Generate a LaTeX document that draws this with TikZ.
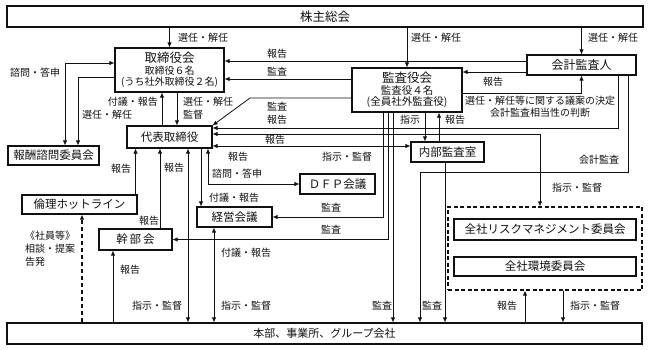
\documentclass[tikz,border=0pt]{standalone}
\usepackage{fontspec}
\setmainfont{Noto Sans CJK JP}
\usetikzlibrary{arrows.meta, calc}
\definecolor{inkblack}{HTML}{111111}

\begin{document}
\begin{tikzpicture}[x=1pt, y=-1pt, inkblack,
    box/.style={draw, line width=1.1pt, inner sep=0pt, align=center, font=\fontsize{11.5}{13}\selectfont},
    grpbox/.style={draw, line width=1.2pt, dash pattern=on 4pt off 2.5pt, inner sep=0pt},
    lbl/.style={inner sep=0pt, font=\fontsize{10}{12}\selectfont},
    arr/.style={line width=0.8pt, -{Latex[length=5pt,width=4.5pt]}},
    arrs/.style={line width=0.8pt, {Latex[length=5pt,width=4.5pt]}-{Latex[length=5pt,width=4.5pt]}}]
  \useasboundingbox (0,0) rectangle (648,350);

  \node[box, minimum width=636pt, minimum height=21pt, font=\fontsize{12.5}{14}\selectfont] (kabu) at (325,16.5) {株主総会};
  \node[box, minimum width=109pt, minimum height=44pt, font=\fontsize{10}{11.5}\selectfont] (tori) at (169.5,70)
    {{\fontsize{12.5}{14}\selectfont 取締役会}\\取締役６名\\(うち社外取締役２名)};
  \node[box, minimum width=109pt, minimum height=20pt, font=\fontsize{12}{14}\selectfont] (kaikei) at (581.5,65) {会計監査人};
  \node[box, minimum width=110pt, minimum height=44pt, font=\fontsize{10.5}{11.5}\selectfont] (kansa) at (407,90)
    {{\fontsize{12.5}{14}\selectfont 監査役会}\\監査役４名\\(全員社外監査役)};
  \node[box, minimum width=85pt, minimum height=22pt] (daihyo) at (169.5,137) {代表取締役};
  \node[box, minimum width=91pt, minimum height=19pt] (hoshu) at (53.5,155.5) {報酬諮問委員会};
  \node[box, minimum width=73pt, minimum height=20pt] (naibu) at (447.5,152) {内部監査室};
  \node[box, minimum width=75pt, minimum height=20pt] (dfp) at (337.5,184) {ＤＦＰ会議};
  \node[box, minimum width=115pt, minimum height=19pt] (rinri) at (79.5,204.5) {倫理ホットライン};
  \node[box, minimum width=75pt, minimum height=20pt] (keiei) at (234.5,217) {経営会議};
  \node[box, minimum width=73pt, minimum height=21pt] (kanbu) at (135.5,239.5) {幹\hspace{2pt}部\hspace{2pt}会};
  \node[grpbox, minimum width=194pt, minimum height=83pt] (grp) at (545,248.5) {};
  \node[box, minimum width=182pt, minimum height=21pt] (risk) at (545,229.5) {全社リスクマネジメント委員会};
  \node[box, minimum width=182pt, minimum height=19pt] (kankyo) at (545,266.5) {全社環境委員会};
  \node[box, minimum width=635pt, minimum height=21pt, font=\fontsize{11}{13}\selectfont] (honbu) at (324.5,333.5) {本部、事業所、グループ会社};

  \coordinate (dgbend) at (250,98);
  \coordinate (acbend) at (420,172);

  \draw[arr] (tori.north |- kabu.south) -- (tori.north);
  \draw[arr] (kansa.north |- kabu.south) -- (kansa.north);
  \draw[arr] (kaikei.north |- kabu.south) -- (kaikei.north);
  \draw[arr] ([yshift=4pt]kaikei.west) -- ([yshift=4pt]kaikei.west -| tori.east);
  \draw[arr] ([yshift=11pt]kansa.west) -- ([yshift=11pt]kansa.west -| tori.east);
  \draw[arr] ([yshift=-8pt]kansa.west) -- (dgbend) -- (daihyo.north east);
  \draw[arr] ([yshift=-7pt]kaikei.west) -- ([yshift=-7pt]kaikei.west -| kansa.east);
  \draw[arr] ([yshift=-3pt]kansa.east) -| (kaikei.south);
  \draw[arr] ([xshift=36.5pt]kaikei.south) |- ([yshift=9pt]daihyo.east);
  \draw[arrs] ([yshift=3pt]daihyo.east) -| ([xshift=-5pt]grp.north);
  \draw[arrs] ([yshift=-9pt]daihyo.east) -- ([yshift=-9pt]daihyo.east -| naibu.west);
  \draw[arr] ([xshift=18pt]kansa.south) -- ([xshift=18pt]kansa.south |- naibu.north);
  \draw[arr] ([xshift=32pt]kansa.south |- naibu.north) -- ([xshift=32pt]kansa.south);
  \draw[arr] ([xshift=-24pt]kansa.south) |- (keiei.east);
  \draw[arr] ([xshift=-19pt]kansa.south) |- (kanbu.east);
  \draw[arr] ([xshift=-14pt]kansa.south) -- ([xshift=-14pt]kansa.south |- honbu.north);
  \draw[arr] ([xshift=46.5pt]kaikei.south) |- (acbend) -- (acbend |- honbu.north);
  \draw[arr] ([xshift=-2.5pt]naibu.south) -- ([xshift=-2.5pt]naibu.south |- honbu.north);
  \draw[arrs] ([yshift=7pt]tori.west) -| ([xshift=11.5pt]hoshu.north);
  \draw[arr] ([yshift=-7pt]tori.west) -| ([xshift=24.5pt]hoshu.north);
  \draw[arr] ([xshift=-7.5pt]daihyo.north) -- ([xshift=-7.5pt]daihyo.north |- tori.south);
  \draw[arr] ([xshift=7.5pt]tori.south) -- ([xshift=7.5pt]tori.south |- daihyo.north);
  \draw[arr] ([xshift=-2pt]rinri.north east) -- ([xshift=-2pt]rinri.north east |- daihyo.south);
  \draw[arr] ([xshift=24.5pt]kanbu.north) -- ([xshift=24.5pt]kanbu.north |- daihyo.south);
  \draw[arrs] ([xshift=18.5pt]daihyo.south) -- ([xshift=18.5pt]daihyo.south |- honbu.north);
  \draw[arr] ([xshift=31.5pt]daihyo.south) -- ([xshift=31.5pt]daihyo.south |- keiei.north);
  \draw[arrs] ([xshift=38.5pt]daihyo.south) |- (dfp.west);
  \draw[arrs] ([xshift=-20.5pt]keiei.south) -- ([xshift=-20.5pt]keiei.south |- honbu.north);
  \draw[arr] ([xshift=-22.5pt]kanbu.south |- honbu.north) -- ([xshift=-22.5pt]kanbu.south);
  \draw[arr, line width=1.2pt, dash pattern=on 4pt off 3pt] ([xshift=2.5pt]rinri.south |- honbu.north) -- ([xshift=2.5pt]rinri.south);
  \draw[arr] ([xshift=-20pt]grp.south |- honbu.north) -- ([xshift=-20pt]grp.south);
  \draw[arr] ([xshift=18pt]grp.south) -- ([xshift=18pt]grp.south |- honbu.north);

  \node[lbl, anchor=west] (lb1) at (178,38) {選任・解任};
  \node[lbl, anchor=west] (lb2) at (411,38) {選任・解任};
  \node[lbl, anchor=west] (lb3) at (588,38) {選任・解任};
  \node[lbl] (lb4) at (277,54) {報告};
  \node[lbl] (lb5) at (277,72) {監査};
  \node[lbl] (lb6) at (277,107) {監査};
  \node[lbl] (lb7) at (277,120) {報告};
  \node[lbl] (lb8) at (275,140) {報告};
  \node[lbl] (lb9) at (347,157) {指示・監督};
  \node[lbl] (lb10) at (493,82) {報告};
  \node[lbl, align=center] (lb11) at (540,107) {選任・解任等に関する議案の決定\\会計監査相当性の判断};
  \node[lbl] (lb12) at (410,120) {指示};
  \node[lbl] (lb13) at (455,120) {報告};
  \node[lbl] (lb14) at (599,160) {会計監査};
  \node[lbl] (lb15) at (577,188) {指示・監督};
  \node[lbl] (lb16) at (35,73) {諮問・答申};
  \node[lbl, anchor=east] (lb17) at (158,102) {付議・報告};
  \node[lbl, anchor=west] (lb18) at (82,115) {選任・解任};
  \node[lbl, anchor=west] (lb19) at (183,102) {選任・解任};
  \node[lbl, anchor=west] (lb20) at (183,115) {監督};
  \node[lbl] (lb21) at (121,169) {報告};
  \node[lbl] (lb22) at (174,168) {報告};
  \node[lbl] (lb23) at (238,157) {報告};
  \node[lbl] (lb24) at (237,174) {諮問・答申};
  \node[lbl] (lb25) at (234,198) {付議・報告};
  \node[lbl] (lb26) at (331,208) {監査};
  \node[lbl] (lb27) at (331,230) {監査};
  \node[lbl] (lb28) at (149,221) {報告};
  \node[lbl, anchor=north west, align=left, font=\fontsize{10}{13}\selectfont] (lb29) at (25,231) {《社員等》\\相談・提案\\告発};
  \node[lbl] (lb30) at (130,270) {報告};
  \node[lbl] (lb31) at (246,253) {付議・報告};
  \node[lbl] (lb32) at (157,306) {指示・監督};
  \node[lbl] (lb33) at (246,306) {指示・監督};
  \node[lbl] (lb34) at (382,306) {監査};
  \node[lbl] (lb35) at (432,306) {監査};
  \node[lbl] (lb36) at (507,306) {報告};
  \node[lbl] (lb37) at (595,306) {指示・監督};
\end{tikzpicture}
\end{document}
